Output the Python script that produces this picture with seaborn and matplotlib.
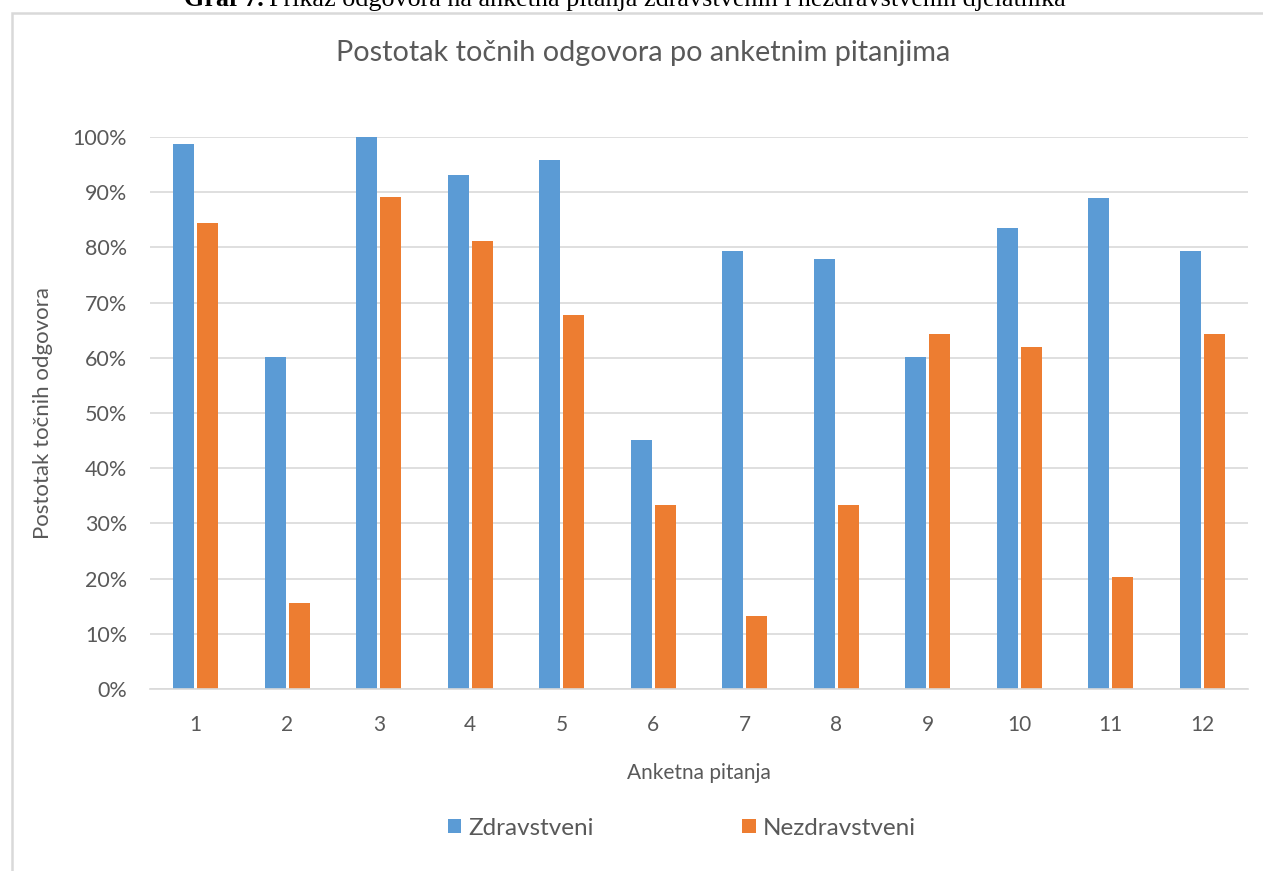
import matplotlib
matplotlib.use("Agg")
import matplotlib.pyplot as plt
import seaborn as sns
import pandas as pd
import numpy as np
from matplotlib.patches import Rectangle, Patch
from matplotlib.ticker import PercentFormatter, FixedLocator

questions = ["1", "2", "3", "4", "5", "6", "7", "8", "9", "10", "11", "12"]
zdravstveni = [98.8, 60.2, 100.0, 93.2, 95.9, 45.1, 79.4, 77.9, 60.2, 83.6, 89.0, 79.4]
nezdravstveni = [84.5, 15.5, 89.2, 81.1, 67.8, 33.3, 13.2, 33.3, 64.4, 62.0, 20.3, 64.4]
series = ["Zdravstveni", "Nezdravstveni"]
colors = ["#5B9BD5", "#ED7D31"]

df = pd.DataFrame({
    "pitanje": questions * 2,
    "vrijednost": zdravstveni + nezdravstveni,
    "skupina": [series[0]] * len(questions) + [series[1]] * len(questions),
})

sns.set_theme(style="white")
plt.rcParams["font.family"] = ["Lato", "DejaVu Sans"]
txt = "#595959"

W, H = 1263, 871
fig = plt.figure(figsize=(W / 100, H / 100), dpi=100)
ax = fig.add_axes([150 / W, 1 - 689 / H, (1248 - 150) / W, (689 - 137) / H])

sns.barplot(data=df, x="pitanje", y="vrijednost", hue="skupina", order=questions,
            hue_order=series, palette=colors, width=0.525, gap=0.14,
            saturation=1, legend=False, ax=ax, edgecolor="none")

ax.set_ylim(0, 100)
ax.set_xlim(-0.5, len(questions) - 0.5)
ax.yaxis.set_major_locator(FixedLocator(np.arange(0, 101, 10)))
ax.yaxis.set_major_formatter(PercentFormatter(decimals=0))
ax.grid(axis="y", color="#D9D9D9", linewidth=1.2)
ax.set_axisbelow(True)
for s in ["left", "right", "top"]:
    ax.spines[s].set_visible(False)
ax.spines["bottom"].set_color("#D9D9D9")
ax.spines["bottom"].set_linewidth(1.2)
ax.tick_params(axis="y", length=0, labelsize=15.5, labelcolor=txt, pad=16.5)
ax.tick_params(axis="x", which="major", length=0, labelsize=15, labelcolor=txt, pad=19)
ax.xaxis.set_minor_locator(FixedLocator(np.arange(-0.5, len(questions), 1.0)))
ax.tick_params(axis="x", which="minor", length=7, width=1.2, color="#D9D9D9")

ax.set_xlabel("Anketna pitanja", fontsize=15, color=txt, labelpad=20)
ax.set_ylabel("Postotak točnih odgovora", fontsize=16, color=txt, labelpad=14)

fig.text(643 / W, 1 - 53 / H, "Postotak točnih odgovora po anketnim pitanjima",
         ha="center", va="center", fontsize=20.8, color=txt)

handles = [Patch(facecolor=c, edgecolor="none") for c in colors]
fig.legend(handles, series, loc="center", bbox_to_anchor=(682 / W, 1 - 828 / H),
           ncol=2, frameon=False, fontsize=17.5, labelcolor=txt,
           handlelength=0.55, handleheight=0.55, handletextpad=0.3, columnspacing=6.1)

# chart border
fig.patches.append(Rectangle((12 / W, -0.05), 1.2, 1 - 13 / H + 0.05,
                             transform=fig.transFigure, fill=False,
                             edgecolor="#D9D9D9", linewidth=1.8))

# partially visible caption above chart
fig.text(264 / W, 1 - 6 / H, "Graf 7.", ha="right", va="baseline",
         fontsize=18.8, fontweight="bold", color="black", family="Liberation Serif")
fig.text(269 / W, 1 - 6 / H,
         "Prikaz odgovora na anketna pitanja zdravstvenih i nezdravstvenih djelatnika",
         ha="left", va="baseline", fontsize=18.8, color="black", family="Liberation Serif")

fig.savefig("out.png", dpi=100)
